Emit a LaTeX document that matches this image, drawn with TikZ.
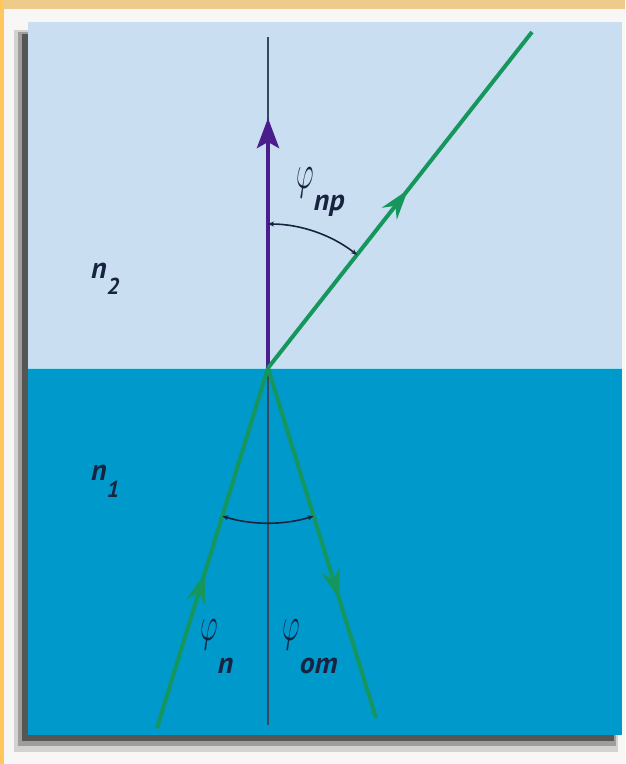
\documentclass[tikz,border=0pt]{standalone}
\usepackage{fontspec}
\usepackage{graphicx}
\usetikzlibrary{arrows.meta,decorations.markings}
\newfontfamily\labfont{PT Sans}
\definecolor{pagewhite}{HTML}{F8F7F5}
\definecolor{framebeige}{HTML}{EECB8B}
\definecolor{frameorange}{HTML}{FFC75E}
\definecolor{upperwater}{HTML}{C9DFF1}
\definecolor{lowerwater}{HTML}{0099CC}
\definecolor{surfaceline}{HTML}{9FDDF2}
\definecolor{raygreen}{HTML}{15965C}
\definecolor{raypurple}{HTML}{4A1C8C}
\definecolor{normalgray}{HTML}{34495E}
\definecolor{arcnavy}{HTML}{18233F}
\tikzset{
  ray/.style={raygreen,line width=4pt},
  midarrow/.style={postaction={decorate},decoration={markings,
    mark=at position #1 with {\arrow{Stealth[length=30pt,width=19pt]}}}},
  anglearc/.style={arcnavy,line width=1.6pt,
    {Stealth[length=6pt,width=5pt]}-{Stealth[length=6pt,width=5pt]}},
  lab/.style={inner sep=0pt,text=arcnavy,
    font=\labfont\bfseries\itshape\fontsize{30}{32}\selectfont}
}
\newcommand{\phisym}{\scalebox{1.1}[1.95]{\normalfont$\varphi$}}
\begin{document}
\begin{tikzpicture}[x=1pt,y=-1pt]
\useasboundingbox (0,0) rectangle (625,764);
\fill[pagewhite] (0,0) rectangle (625,764);
\fill[framebeige] (0,0) rectangle (625,9);
\fill[frameorange] (0,0) rectangle (4,764);
\fill[black,opacity=.15] (14,30) rectangle (618,752);
\fill[black,opacity=.25] (18,32) rectangle (616,746);
\fill[black,opacity=.45] (22,34) rectangle (614,741);
\fill[upperwater] (28,22) rectangle (622,368);
\fill[lowerwater] (28,368) rectangle (622,735);
\draw[surfaceline,line width=1pt] (28,368) -- (622,368);

\coordinate (O) at (268,368);
\coordinate (ntop) at (268,37);
\coordinate (nbot) at (268,725);
\coordinate (T) at (268,118);
\coordinate (A) at (157,728);
\coordinate (B) at (376,718);
\coordinate (C) at (532,32);

\draw[normalgray,line width=2.5pt] (ntop) -- (nbot);
\draw[raypurple,line width=4.5pt,-{Stealth[length=30pt,width=22pt,inset=6pt]}] (O) -- (T);
\draw[ray,midarrow=0.43] (A) -- (O);
\draw[ray,midarrow=0.66] (O) -- (B);
\draw[ray,midarrow=0.53] (O) -- (C);

\draw[anglearc] (O) ++(-90:144) arc[start angle=-90,end angle=-51.8,radius=144];
\draw[anglearc] (O) ++(107.1:155) arc[start angle=107.1,end angle=72.9,radius=155];

\node[lab,anchor=base west] (ntwo) at (91,278) {n\raisebox{-16pt}{\fontsize{23}{24}\selectfont 2}};
\node[lab,anchor=base west] (none) at (91,480) {n\raisebox{-17pt}{\fontsize{23}{24}\selectfont 1}};
\node[lab,anchor=base west] (phipr) at (296,188) {\phisym\raisebox{-22pt}{пр}};
\node[lab,anchor=base west] (phip) at (200,640) {\phisym\raisebox{-33pt}{п}};
\node[lab,anchor=base west] (phiot) at (282,640) {\phisym\raisebox{-33pt}{от}};
\end{tikzpicture}
\end{document}
